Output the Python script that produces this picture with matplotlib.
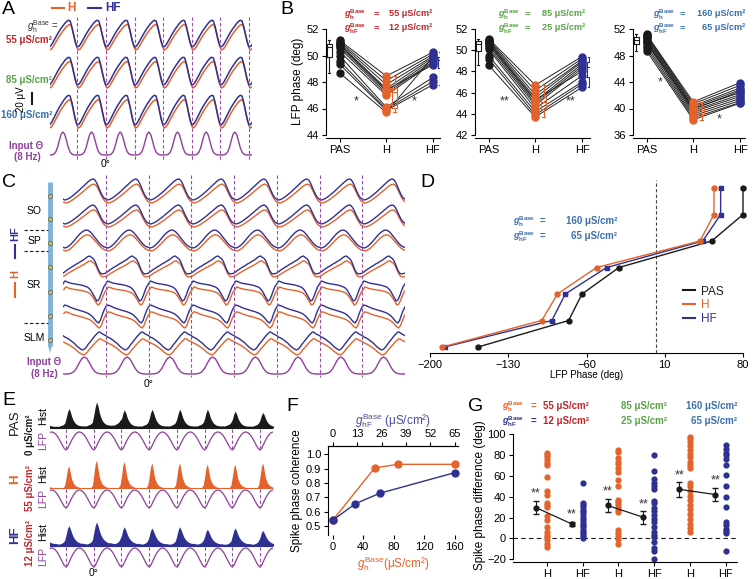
import numpy as np
import matplotlib
matplotlib.use('Agg')
import matplotlib.pyplot as plt
from matplotlib.lines import Line2D

W, H = 753, 579

plt.rcParams['font.family'] = ['Liberation Sans', 'DejaVu Sans']
plt.rcParams['mathtext.fontset'] = 'custom'
plt.rcParams['mathtext.rm'] = 'Liberation Sans'
plt.rcParams['mathtext.it'] = 'Liberation Sans:italic'
plt.rcParams['mathtext.bf'] = 'Liberation Sans:bold'
plt.rcParams['mathtext.bfit'] = 'Liberation Sans:italic:bold'
plt.rcParams['axes.linewidth'] = 0.8
plt.rcParams['xtick.major.width'] = 0.8
plt.rcParams['ytick.major.width'] = 0.8
plt.rcParams['xtick.major.size'] = 3
plt.rcParams['ytick.major.size'] = 3
plt.rcParams['xtick.labelsize'] = 8
plt.rcParams['ytick.labelsize'] = 8
plt.rcParams['xtick.major.pad'] = 2
plt.rcParams['ytick.major.pad'] = 2

ORANGE = '#e4622b'
NAVY = '#2e3192'
PURPLE = '#8e3f98'
DASHP = '#9b4da6'
RED = '#c1272d'
GREEN = '#5aa346'
STEEL = '#3b6fab'
BLACK = '#1a1a1a'

# ---- one-cycle shapes (phase 0 = dashed line) ----
A_LFP = [0.0, 0.03, 0.12, 0.24, 0.36, 0.48, 0.59, 0.69, 0.78, 0.87, 0.94, 0.99, 0.97, 0.75, 0.45, 0.17]
THETA = [0.0, 0.0, 0.01, 0.04, 0.13, 0.33, 0.63, 0.9, 1.0, 0.9, 0.63, 0.33, 0.13, 0.04, 0.01, 0.0]

C_SO = [0.04, 0.0, 0.02, 0.06, 0.11, 0.17, 0.24, 0.31, 0.38, 0.46, 0.54, 0.62,
        0.7, 0.78, 0.86, 0.93, 0.98, 1.0, 0.94, 0.8, 0.6, 0.4, 0.22, 0.1]
C_SP = [0.04, 0.0, 0.03, 0.09, 0.17, 0.27, 0.38, 0.5, 0.62, 0.73, 0.83, 0.91,
        0.97, 1.0, 0.98, 0.92, 0.82, 0.7, 0.57, 0.44, 0.32, 0.21, 0.12, 0.06]
C_SR1 = [0.05, 0.12, 0.2, 0.27, 0.33, 0.4, 0.45, 0.52, 0.58, 0.63, 0.7, 0.75,
         0.82, 0.9, 0.97, 1.0, 0.92, 0.85, 0.7, 0.45, 0.2, 0.05, 0.0, 0.02]
C_SR2 = [0.85, 1.0, 0.97, 0.93, 0.9, 0.88, 0.86, 0.85, 0.83, 0.82, 0.8, 0.78,
         0.75, 0.72, 0.68, 0.6, 0.48, 0.32, 0.15, 0.0, 0.05, 0.25, 0.5, 0.72]
C_SR3 = [0.9, 1.0, 0.97, 0.93, 0.88, 0.84, 0.8, 0.77, 0.74, 0.71, 0.68, 0.65,
         0.62, 0.58, 0.54, 0.48, 0.4, 0.3, 0.18, 0.06, 0.0, 0.15, 0.45, 0.7]
C_SLM = [0.8, 0.72, 0.68, 0.62, 0.55, 0.47, 0.4, 0.3, 0.2, 0.12, 0.05, 0.0,
         0.05, 0.15, 0.3, 0.42, 0.55, 0.68, 0.8, 0.9, 1.0, 0.98, 0.9, 0.85]

E_LFP = [0.0, 0.1, 0.3, 0.5, 0.68, 0.82, 0.93, 0.99, 1.0, 0.96, 0.88, 0.76, 0.6, 0.42, 0.24, 0.08]
PAS_HIST = [0.5, 0.8, 1.0, 0.85, 0.6, 0.42, 0.3, 0.22, 0.17, 0.14,
            0.12, 0.12, 0.1, 0.12, 0.1, 0.12, 0.15, 0.18, 0.22, 0.3]
H_HIST = [0.45, 0.85, 1.0, 0.7, 0.4, 0.25, 0.15, 0.1, 0.06, 0.04,
          0.02, 0.01, 0.0, 0.0, 0.0, 0.0, 0.0, 0.01, 0.03, 0.12]
HF_HIST = [0.55, 0.85, 1.0, 0.85, 0.65, 0.48, 0.36, 0.28, 0.22, 0.18,
           0.15, 0.13, 0.14, 0.12, 0.11, 0.1, 0.12, 0.15, 0.2, 0.3]
PAS_PEAKS = [0.6, 0.75, 1.0, 0.7, 0.72, 0.72, 0.72, 0.65, 0.6]
H_PEAKS = [0.8, 0.8, 1.0, 0.95, 0.9, 0.9, 0.85, 0.85, 0.9]
HF_PEAKS = [0.8, 0.85, 1.0, 0.8, 0.75, 0.8, 0.7, 0.75, 0.65]

# ---- panel B: LFP phase per neuron ----
B_LABELS = ['PAS', 'H', 'HF']
B1_PAS = [51.15, 51.05, 50.95, 50.85, 50.7, 50.55, 50.3, 50.0, 49.6, 49.35, 48.7, 50.8]
B1_H = [48.45, 48.1, 47.8, 47.5, 47.3, 47.15, 47.0, 46.1, 45.95, 45.85, 45.7, 47.4]
B1_HF = [50.25, 50.1, 49.95, 49.85, 49.7, 49.55, 49.45, 48.35, 48.05, 47.8, 49.9, 49.3]
B2_PAS = [51.1, 51.0, 50.9, 50.8, 50.65, 50.5, 50.3, 50.1, 49.5, 49.2, 48.6, 50.7]
B2_H = [46.7, 46.2, 45.8, 45.5, 45.2, 45.0, 44.8, 44.5, 44.2, 43.9, 43.7, 45.3]
B2_HF = [49.4, 49.2, 49.0, 48.9, 48.7, 48.5, 48.3, 47.6, 47.0, 46.8, 46.5, 48.0]
B3_PAS = [51.2, 51.1, 51.0, 50.8, 50.6, 50.4, 50.2, 49.9, 49.5, 49.1, 48.7, 50.0]
B3_H = [41.0, 40.7, 40.4, 40.2, 40.0, 39.7, 39.5, 39.2, 38.9, 38.6, 38.3, 39.9]
B3_HF = [43.9, 43.5, 43.1, 42.8, 42.4, 42.1, 41.8, 41.5, 41.2, 40.9, 40.8, 42.6]
B_GH = ['55', '85', '160']
B_GHF = ['12', '25', '65']

# ---- panel D: LFP phase vs electrode depth ----
D_LEVEL = [0, 1, 2, 3, 4, 5, 6]
D_PAS = [80, 80, 52, -31, -64, -76, -157]
D_H = [54, 54, 41.5, -51, -86, -100, -189]
D_HF = [60, 60, 44, -42, -79, -91, -187]

# ---- panel F: spike phase coherence ----
F_GH = [0, 55, 85, 160]
F_COH_H = [0.54, 0.905, 0.93, 0.93]
F_GHF = [0, 12, 25, 65]
F_COH_HF = [0.54, 0.655, 0.728, 0.872]

# ---- panel G: spike phase difference ----
G_TICKS = ['H', 'HF', 'H', 'HF', 'H', 'HF']
G1_H = [82, 80, 78, 75, 72, 70, 59, 45, 42, 34, 32, 30, 21, 18, 11, 6, 3, 1, -2, -5, -8]
G1_HF = [53, 34, 32, 30, 27, 25, 22, 20, 18, 15, 13, 11, 8, 6, 4, 2, 0]
G2_H = [85, 83, 77, 73, 71, 67, 64, 56, 50, 37, 35, 33, 30, 27, 25, 8, 5, 2, -1, -5]
G2_HF = [80, 65, 57, 53, 50, 47, 36, 34, 29, 26, 22, 19, 16, 11, 6, 3, 1, -3, -9, -12, -20]
G3_H = [97, 95, 92, 88, 85, 81, 78, 73, 70, 67, 53, 50, 45, 41, 37, 32, 28, 23, 19, 14, 10, 6]
G3_HF = [89, 86, 82, 80, 76, 70, 61, 50, 40, 30, 16, 13, 9, 7, 5, -12]
G_MEAN = [29.5, 13.8, 31.5, 20.2, 47, 42]
G_ERR = [6.5, 2.0, 6.5, 6.0, 7.0, 6.5]

fig = plt.figure(figsize=(W / 100, H / 100), dpi=100)
fig.patch.set_facecolor('white')


def px_axes(x0, y0, x1, y1):
    return fig.add_axes([x0 / W, 1 - y1 / H, (x1 - x0) / W, (y1 - y0) / H])


def ftext(x, y, s, **kw):
    kw.setdefault('ha', 'left')
    kw.setdefault('va', 'center')
    return fig.text(x / W, 1 - y / H, s, **kw)


def fline(xs, ys, **kw):
    fig.add_artist(Line2D([x / W for x in xs], [1 - y / H for y in ys],
                          transform=fig.transFigure, **kw))


def glab(sub, bold=True):
    if bold:
        return r'$\mathbfit{g}_{\mathbf{%s}}^{\mathbf{Base}}$' % sub
    return r'$g_{\mathrm{%s}}^{\mathrm{Base}}$' % sub


def gtitle(xg, xe, xr, y1, y2, v1, v2, gcol1, gcol2, vcol, fs=6.6):
    # two stacked "g = value" lines: g label, "=" sign, right-aligned value
    ftext(xg, y1 + 1, glab('h'), color=gcol1, fontsize=6.4)
    ftext(xg, y2 + 1, glab('hF'), color=gcol2, fontsize=6.4)
    ftext(xe, y1, '=', color=gcol1, fontsize=fs, fontweight='bold')
    ftext(xe, y2, '=', color=gcol2, fontsize=fs, fontweight='bold')
    ftext(xr, y1, v1 + ' μS/cm²', color=vcol, fontsize=fs, fontweight='bold', ha='right')
    ftext(xr, y2, v2 + ' μS/cm²', color=vcol, fontsize=fs, fontweight='bold', ha='right')


DASH = (0, (3, 2))

# ================= A =================
axA = px_axes(50, 0, 252, 170)
axA.set_xlim(-0.95, 6.1)
axA.set_ylim(170, 0)
axA.axis('off')
tA = np.arange(16 * 8) / 16 - 1
lfpA = np.tile(A_LFP, 8)
for trough, amp in zip([47, 85, 125], [27, 28, 30]):
    axA.plot(tA + 0.03, trough + 3 - amp * 0.95 * lfpA, color=ORANGE, lw=1.1)
    axA.plot(tA, trough - amp * lfpA, color=NAVY, lw=1.1)
axA.plot(tA, 155 - 23 * np.tile(THETA, 8), color=PURPLE, lw=1)
for k in range(7):
    axA.plot([k, k], [17, 160], ls=DASH, color=DASHP, lw=0.8)
axA.text(1, 164, '0°', ha='center', va='center', fontsize=7.5)

fline([52, 64], [8, 8], color=ORANGE, lw=1.5)
ftext(67, 8, 'H', color=ORANGE, fontsize=8.5, fontweight='bold')
fline([88, 101], [8, 8], color=NAVY, lw=1.5)
ftext(105, 8, 'HF', color=NAVY, fontsize=8.5, fontweight='bold')
ftext(27, 27, glab('h', False) + ' =', color='#333333', fontsize=7)
ftext(52, 40, '55 μS/cm²', color=RED, fontsize=7, fontweight='bold', ha='right')
ftext(52, 80, '85 μS/cm²', color=GREEN, fontsize=7, fontweight='bold', ha='right')
ftext(52, 115, '160 μS/cm²', color=STEEL, fontsize=7, fontweight='bold', ha='right')
ftext(21, 99, '20 μV', rotation=90, fontsize=7, ha='center')
fline([32, 32], [93, 104], color=BLACK, lw=1.5)
ftext(26, 146, 'Input Θ', color=PURPLE, fontsize=7, fontweight='bold', ha='center')
ftext(27, 157, '(8 Hz)', color=PURPLE, fontsize=7, fontweight='bold', ha='center')

# ================= B =================
B_SETS = [(B1_PAS, B1_H, B1_HF), (B2_PAS, B2_H, B2_HF), (B3_PAS, B3_H, B3_HF)]
B_X = [(326, 440), (475, 590), (633, 745)]
B_LIM = [(44, 52, 2), (42, 52, 2), (36, 52, 4)]
B_COL = [RED, GREEN, STEEL]
B_STARS = [[(0.35, 46.5, '*'), (1.6, 46.5, '*')],
           [(0.35, 45.2, '**'), (1.75, 45.2, '**')],
           [(0.3, 44.0, '*'), (1.55, 38.4, '*')]]
B_TITLE_X = [(344, 374, 432), (498, 525, 585), (653, 680, 745)]
for i, ((pas, hh, hf), (x0, x1), (lo, hi, st)) in enumerate(zip(B_SETS, B_X, B_LIM)):
    ax = px_axes(x0, 25, x1, 138)
    per = (hi - lo) / 106
    ax.set_ylim(lo - 3 * per, hi + 4 * per)
    ax.set_xlim(-13.5 / 46.75, (x1 - x0 - 13.5) / 46.75)
    for s in ['top', 'right']:
        ax.spines[s].set_visible(False)
    ax.spines['left'].set_bounds(lo, hi)
    ax.set_yticks(np.arange(lo, hi + 1, st))
    ax.set_xticks([0, 1, 2])
    ax.set_xticklabels(B_LABELS)
    for a, b, c in zip(pas, hh, hf):
        ax.plot([0, 1, 2], [a, b, c], color='#222222', lw=0.7, zorder=2)
    ax.plot(np.zeros(len(pas)), pas, 'o', color=BLACK, ms=5, zorder=3)
    ax.plot(np.ones(len(hh)), hh, 'o', color=ORANGE, ms=5, zorder=3)
    ax.plot(np.full(len(hf), 2), hf, 'o', color=NAVY, ms=5, zorder=3)
    for data, pos, col in [(pas, -0.22, BLACK), (hh, 1.18, ORANGE), (hf, 2.15, NAVY)]:
        ax.boxplot([data], positions=[pos], widths=0.1, whis=(0, 100), showfliers=False,
                   manage_ticks=False,
                   boxprops=dict(color=col, lw=0.8), whiskerprops=dict(color=col, lw=0.8),
                   capprops=dict(color=col, lw=0.8), medianprops=dict(color=col, lw=0.8))
    for sx, sy, s in B_STARS[i]:
        ax.text(sx, sy, s, ha='center', va='center', fontsize=9, color='#333333')
    if i == 0:
        ax.set_ylabel('LFP phase (deg)', fontsize=8.5, labelpad=2)
    xg, xe, xr = B_TITLE_X[i]
    col = B_COL[i]
    gtitle(xg, xe, xr, 14, 28, B_GH[i], B_GHF[i], col, col, col)

# ================= C =================
axC = px_axes(63, 170, 405, 390)
axC.set_xlim(-1, 7)
axC.set_ylim(390, 170)
axC.axis('off')
tC = np.arange(24 * 9) / 24 - 1
C_ROWS = [C_SO, C_SO, C_SP, C_SR1, C_SR2, C_SR3, C_SLM]
C_PEAK = [179, 205, 230, 256, 281, 305, 332]
C_TROUGH = [200, 224, 248, 274, 301, 323, 350]
C_OFF = [3, 3, 3, 3, 4, 5, 5]
for tmpl, pk, tr, off in zip(C_ROWS, C_PEAK, C_TROUGH, C_OFF):
    y = np.tile(tmpl, 9)
    axC.plot(tC + 0.02, tr + off - (tr - pk) * 0.9 * y, color=ORANGE, lw=1.0)
    axC.plot(tC, tr - (tr - pk) * y, color=NAVY, lw=1.0)
tCi = np.arange(16 * 9) / 16 - 1
axC.plot(tCi, 374 - 17 * np.tile(THETA, 9), color=PURPLE, lw=1)
for k in range(7):
    axC.plot([k, k], [175, 377], ls=DASH, color=DASHP, lw=0.8)
axC.text(1, 384, '0°', ha='center', va='center', fontsize=7.5)

axP = px_axes(0, 170, 63, 390)
axP.set_xlim(0, 63)
axP.set_ylim(390, 170)
axP.axis('off')
axP.plot([50, 50], [182, 346], color='#7fb2dc', lw=3.5, solid_capstyle='butt')
axP.fill([48.2, 51.8, 50], [346, 346, 353], color='#7fb2dc', lw=0)
axP.scatter(np.full(7, 50.5), [196, 219, 243, 267, 292, 316, 340], s=9,
            color='#d9c73a', edgecolors='#555555', linewidths=0.5, zorder=3)
for yy in [230, 251, 323]:
    axP.plot([24, 48], [yy, yy], ls=DASH, color=BLACK, lw=0.8)
for lab, yy in [('SO', 211), ('SP', 241), ('SR', 285), ('SLM', 338)]:
    axP.text(34, yy, lab, ha='center', va='center', fontsize=7.5)
ftext(15, 234, 'HF', color=NAVY, fontsize=8, fontweight='bold', rotation=90, ha='center')
fline([15, 15], [245, 258], color=NAVY, lw=1.5)
ftext(15, 274, 'H', color=ORANGE, fontsize=8, fontweight='bold', rotation=90, ha='center')
fline([15, 15], [283, 297], color=ORANGE, lw=1.5)
ftext(44, 362, 'Input Θ', color=PURPLE, fontsize=7, fontweight='bold', ha='center')
ftext(44, 374, '(8 Hz)', color=PURPLE, fontsize=7, fontweight='bold', ha='center')

# ================= D =================
axD = px_axes(430, 165, 743, 353)
axD.set_xlim(-200, 80)
axD.set_ylim(6.226, -0.868)
for s in ['left', 'right', 'top']:
    axD.spines[s].set_visible(False)
axD.set_yticks([])
axD.set_xticks([-200, -130, -60, 10, 80])
axD.axvline(2, ymax=0.92, ls=DASH, color='#444444', lw=0.8)
for vals, col, mk in [(D_PAS, BLACK, 'o'), (D_HF, NAVY, 's'), (D_H, ORANGE, 'o')]:
    axD.errorbar(vals, D_LEVEL, xerr=1.5, color=col, marker=mk, ms=3.5, lw=1,
                 capsize=1.5, clip_on=False)
axD.set_xlabel('LFP Phase (deg)', fontsize=7, labelpad=0)
handles = [Line2D([0], [0], color=c, lw=1.5) for c in [BLACK, ORANGE, NAVY]]
axD.legend(handles, ['PAS', 'H', 'HF'], loc='upper left', bbox_to_anchor=(0.79, 0.39),
           frameon=False, fontsize=8.5, handlelength=1.0, handletextpad=0.5,
           labelspacing=0.15, labelcolor='linecolor', borderpad=0)
gtitle(513, 540, 617, 221, 236, '160', '65', STEEL, STEEL, STEEL, fs=7)

# ================= E =================
axE = px_axes(50, 390, 273, 579)
axE.set_xlim(-0.58, 7.47)
axE.set_ylim(579, 390)
axE.axis('off')
tE = np.arange(20 * 9) / 20 - 1
tEl = np.arange(16 * 9) / 16 - 1
E_ROWS = [(PAS_HIST, PAS_PEAKS, BLACK, 428, 26, 432, 450),
          (H_HIST, H_PEAKS, ORANGE, 488, 28, 490, 508),
          (HF_HIST, HF_PEAKS, NAVY, 546, 24, 548, 567)]
for tmpl, pk, col, base, amp, ltop, lbot in E_ROWS:
    hist = np.tile(tmpl, 9) * np.repeat(pk, 20)
    axE.fill_between(tE, base, base - amp * hist, color=col, lw=0)
    axE.plot([-0.58, 7.47], [base, base], color=col, lw=0.8)
    axE.plot(tEl, lbot - (lbot - ltop) * np.tile(E_LFP, 9), color=PURPLE, lw=0.9)
    for k in range(8):
        axE.plot([k, k], [base + 1, lbot], ls=DASH, color=DASHP, lw=0.8)
axE.text(1, 573, '0°', ha='center', va='center', fontsize=7.5)
for name, ncol, g, gcol, yh, yl, yn, yg in [
        ('PAS', BLACK, '0 μS/cm²', BLACK, 416, 440, 422, 435),
        ('H', ORANGE, '55 μS/cm²', RED, 474, 498, 479, 488),
        ('HF', NAVY, '12 μS/cm²', RED, 532, 557, 535, 543)]:
    ftext(15, yn, name, color=ncol, fontsize=9.5, rotation=90, ha='center',
          fontweight='normal' if name == 'PAS' else 'bold')
    ftext(30, yg, g, color=gcol, fontsize=7, fontweight='bold', rotation=90, ha='center')
    ftext(43, yh, 'Hist', fontsize=7.5, rotation=90, ha='center')
    ftext(43, yl, 'LFP', color=PURPLE, fontsize=7.5, rotation=90, ha='center')

# ================= F =================
axF = px_axes(328, 446, 458, 535)
axF.set_xlim(-6.2, 164.3)
axF.set_ylim(0.437, 1.058)
axF.spines['right'].set_visible(False)
axF.spines['bottom'].set_visible(False)
axF.set_xticks([0, 40, 80, 120, 160])
axF.set_yticks([0.5, 0.6, 0.7, 0.8, 0.9, 1.0])
axF.set_yticklabels(['0.5', '0.6', '0.7', '0.8', '0.9', '1.0'])
axF.plot(F_GH, F_COH_H, '-o', color=ORANGE, ms=5, lw=1, clip_on=False)
axF.set_ylabel('Spike phase coherence', fontsize=8.5, labelpad=2)
axF.set_xlabel(glab('h', False) + '(μS/cm²)', color=ORANGE, fontsize=8.5, labelpad=2)
axF2 = axF.twiny()
axF2.set_xlim(-6.2 * 65 / 160, 164.3 * 65 / 160)
for s in ['right', 'bottom', 'left']:
    axF2.spines[s].set_visible(False)
axF2.set_xticks([0, 13, 26, 39, 52, 65])
axF2.plot(F_GHF, F_COH_HF, '-o', color=NAVY, ms=5, lw=1, clip_on=False)
axF2.set_xlabel(glab('hF', False) + ' (μS/cm²)', color='#4a4aa0', fontsize=8.5, labelpad=3)

# ================= G =================
axG = px_axes(513, 428, 737, 562)
axG.set_xlim(-0.94, 5.31)
axG.set_ylim(-22.6, 105.7)
for s in ['top', 'right']:
    axG.spines[s].set_visible(False)
axG.spines['left'].set_bounds(-20, 100)
axG.set_yticks(np.arange(-20, 101, 20))
axG.set_xticks(range(6))
axG.set_xticklabels(G_TICKS)
axG.axhline(0, ls=(0, (4, 3)), color=BLACK, lw=0.8)
for i, (vals, col) in enumerate(zip([G1_H, G1_HF, G2_H, G2_HF, G3_H, G3_HF],
                                    [ORANGE, NAVY] * 3)):
    axG.plot(np.full(len(vals), i), vals, 'o', color=col, ms=4.5, mec='none', clip_on=False)
for g in range(3):
    xs = [2 * g - 0.3, 2 * g + 0.7]
    ms = G_MEAN[2 * g:2 * g + 2]
    es = G_ERR[2 * g:2 * g + 2]
    axG.plot(xs, ms, color=BLACK, lw=0.9, zorder=4)
    axG.errorbar(xs, ms, yerr=es, fmt='o', color=BLACK, ms=3.5, capsize=2.5, lw=0.8, zorder=5)
    for x, m, e in zip(xs, ms, es):
        axG.text(x, m + e + 1, '**', ha='center', va='bottom', fontsize=9, color='#333333')
axG.set_ylabel('Spike phase difference (deg)', fontsize=8.5, labelpad=1)
gtitle(502, 531, 589, 406, 421, '55', '12', ORANGE, NAVY, RED, fs=7)
ftext(667, 406, '85 μS/cm²', color=GREEN, fontsize=7, fontweight='bold', ha='right')
ftext(667, 421, '25 μS/cm²', color=GREEN, fontsize=7, fontweight='bold', ha='right')
ftext(737, 406, '160 μS/cm²', color=STEEL, fontsize=7, fontweight='bold', ha='right')
ftext(737, 421, '65 μS/cm²', color=STEEL, fontsize=7, fontweight='bold', ha='right')

for letter, x, y in [('A', 2, 1), ('B', 280, 1), ('C', 2, 174), ('D', 420, 174),
                     ('E', 2, 392), ('F', 286, 398), ('G', 468, 398)]:
    ftext(x, y, letter, fontsize=14, va='top')

fig.savefig('out.png', dpi=100)
